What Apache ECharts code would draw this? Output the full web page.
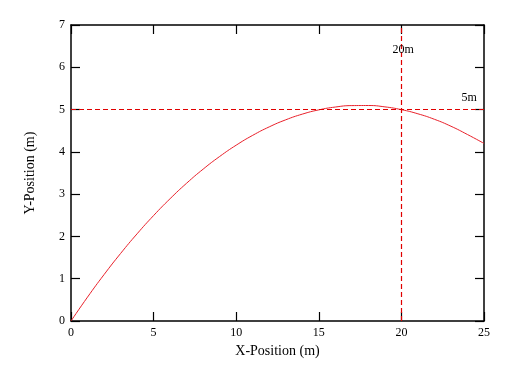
<!DOCTYPE html>
<html>
<head>
<meta charset="utf-8">
<script src="https://cdn.jsdelivr.net/npm/echarts@6/dist/echarts.min.js"></script>
<style>html,body{margin:0;padding:0;background:#fff;}#c{width:522px;height:382px;}</style>
</head>
<body>
<div id="c"></div>
<script>
var xValues = [0,1,2,3,4,5,6,7,8,9,10,11,12,13,14,15,16,17,18,19,20,21,22,23,24,25];
var yValues = [0,0.565,1.097,1.596,2.062,2.494,2.893,3.259,3.592,3.891,4.158,4.391,4.591,4.758,4.892,4.993,5.060,5.094,5.096,5.064,4.998,4.900,4.770,4.606,4.410,4.200];
var xTicks = [0,5,10,15,20,25];
var yTicks = [0,1,2,3,4,5,6,7];
var refX = 20, refY = 5;
var refLabels = [{text:'20m', x:20.1, y:6.42},{text:'5m', x:24.1, y:5.28}];

var font = 'Liberation Serif';
var chart = echarts.init(document.getElementById('c'), null, {renderer:'canvas'});
var axisLine = {show:true, onZero:false, lineStyle:{color:'#000', width:1.5}};
var ticks = {show:true, inside:true, length:9, lineStyle:{color:'#000', width:1.2}};
var dashStyle = {color:'#e00000', type:[5,3], width:1.2, opacity:1};
chart.setOption({
  animation:false,
  grid:{left:71, right:38, top:25, bottom:61, containLabel:false},
  xAxis:[
    {type:'value', min:0, max:25, interval:5, position:'bottom',
     axisLine:axisLine, axisTick:ticks, splitLine:{show:false},
     axisLabel:{fontFamily:font, fontSize:12, color:'#000', margin:6,
       formatter:function(v){return xTicks.indexOf(v)>=0? String(v):'';}},
     name:'X-Position (m)', nameLocation:'middle', nameGap:23,
     nameTextStyle:{fontFamily:font, fontSize:14, color:'#000'}},
    {type:'value', min:0, max:25, interval:5, position:'top',
     axisLine:axisLine, axisTick:ticks, splitLine:{show:false}, axisLabel:{show:false}}
  ],
  yAxis:[
    {type:'value', min:0, max:7, interval:1, position:'left',
     axisLine:axisLine, axisTick:ticks, splitLine:{show:false},
     axisLabel:{fontFamily:font, fontSize:12, color:'#000', margin:6,
       formatter:function(v){return yTicks.indexOf(v)>=0? String(v):'';}},
     name:'Y-Position (m)', nameLocation:'middle', nameGap:34,
     nameTextStyle:{fontFamily:font, fontSize:14, color:'#000'}},
    {type:'value', min:0, max:7, interval:1, position:'right',
     axisLine:axisLine, axisTick:ticks, splitLine:{show:false}, axisLabel:{show:false}}
  ],
  series:[
    {type:'line', smooth:true, showSymbol:false, symbol:'none',
     data:xValues.map(function(x,i){return [x,yValues[i]];}),
     lineStyle:{color:'#e8202a', width:1},
     markLine:{silent:true, symbol:'none', label:{show:false},
       lineStyle:dashStyle,
       emphasis:{disabled:true},
       data:[{xAxis:refX, lineStyle:dashStyle},{yAxis:refY, lineStyle:dashStyle}]},
     markPoint:{silent:true, symbol:'circle', symbolSize:0,
       label:{show:true, position:'inside', fontFamily:font, fontSize:12, color:'#000',
         formatter:function(p){return p.name;}},
       data:refLabels.map(function(r){return {name:r.text, coord:[r.x,r.y]};})}
    }
  ]
});
</script>
</body>
</html>
